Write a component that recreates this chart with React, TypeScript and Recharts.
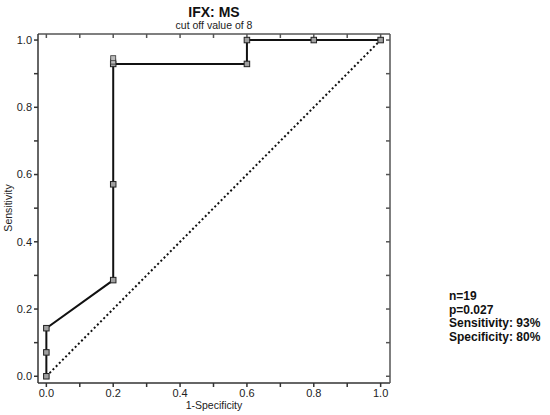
import React from 'react';
import { ComposedChart, Line, Scatter, XAxis, YAxis, CartesianGrid } from 'recharts';

const rocX = [0, 0, 0, 0.2, 0.2, 0.2, 0.6, 0.6, 0.8, 1.0];
const rocY = [0, 0.071, 0.143, 0.286, 0.571, 0.929, 0.929, 1.0, 1.0, 1.0];
const extraX = [0.2, 0.2];
const extraY = [0.936, 0.946];
const diagX = [0, 1];
const diagY = [0, 1];
const ticks = [0, 0.1, 0.2, 0.3, 0.4, 0.5, 0.6, 0.7, 0.8, 0.9, 1.0];
const notes = ['n=19', 'p=0.027', 'Sensitivity: 93%', 'Specificity: 80%'];

const rocData = rocX.map((x, i) => ({ x, y: rocY[i] }));
const extraData = extraX.map((x, i) => ({ x, y: extraY[i] }));
const diagData = diagX.map((x, i) => ({ x, y: diagY[i] }));

const fmt = (v: number) => {
  const k = Math.round(v * 10);
  return k % 2 === 0 ? v.toFixed(1) : '';
};

const SquareDot = (props: any) => {
  const { cx, cy } = props;
  if (cx == null || cy == null) return null;
  return <rect x={cx - 2.75} y={cy - 2.75} width={5.5} height={5.5} fill="#a0a0a0" stroke="#222" strokeWidth={1} />;
};

const SmallDot = (props: any) => {
  const { cx, cy } = props;
  if (cx == null || cy == null) return null;
  return <rect x={cx - 2.5} y={cy - 2.5} width={5} height={5} fill="#bbb" stroke="#333" strokeWidth={0.8} />;
};

const font = 'Liberation Sans, Arial, Helvetica, sans-serif';

export default function App() {
  return (
    <div style={{ position: 'absolute', left: 0, top: 0, width: 550, height: 415, background: '#fff', fontFamily: font }}>
      <ComposedChart width={550} height={415} margin={{ top: 33, right: 159, bottom: 0, left: 0 }}>
        <CartesianGrid stroke="#dcdcdc" horizontalValues={[0, 0.2, 0.4, 0.6, 0.8, 1.0]} verticalValues={[0, 0.2, 0.4, 0.6, 0.8, 1.0]} />
        <XAxis xAxisId="b" dataKey="x" type="number" domain={[-0.025, 1.028]} ticks={ticks} tickFormatter={fmt}
          height={32} tickSize={4} stroke="#333" strokeWidth={1.5}
          tick={{ fill: '#222', fontSize: 11, fontFamily: font }} allowDataOverflow />
        <XAxis xAxisId="t" orientation="top" dataKey="x" type="number" domain={[-0.025, 1.028]} ticks={ticks} tickFormatter={() => ''}
          height={1} tickSize={-4} stroke="#555" strokeWidth={1.5} allowDataOverflow />
        <YAxis yAxisId="l" dataKey="y" type="number" domain={[-0.02, 1.018]} ticks={ticks} tickFormatter={fmt}
          width={38} tickSize={4} stroke="#333" strokeWidth={1.5}
          tick={{ fill: '#222', fontSize: 11, fontFamily: font }} allowDataOverflow />
        <YAxis yAxisId="r" orientation="right" dataKey="y" type="number" domain={[-0.02, 1.018]} ticks={ticks} tickFormatter={() => ''}
          width={1} tickSize={-4} stroke="#555" strokeWidth={1.5} allowDataOverflow />
        <Line xAxisId="b" yAxisId="l" data={diagData} dataKey="y" type="linear" stroke="#111" strokeWidth={2}
          strokeDasharray="2 2.5" dot={false} isAnimationActive={false} />
        <Line xAxisId="b" yAxisId="l" data={rocData} dataKey="y" type="linear" stroke="#111" strokeWidth={2}
          dot={<SquareDot />} isAnimationActive={false} />
        <Scatter xAxisId="b" yAxisId="l" data={extraData} dataKey="y" shape={<SmallDot />} isAnimationActive={false} />
        <text x={214} y={17} textAnchor="middle" fontSize={14} fontWeight="bold" fill="#111" fontFamily={font}>IFX: MS</text>
        <text x={214} y={29} textAnchor="middle" fontSize={10.5} fill="#222" fontFamily={font}>cut off value of 8</text>
        <text x={214} y={409} textAnchor="middle" fontSize={10.5} fill="#222" fontFamily={font}>1-Specificity</text>
        <text x={12} y={208} textAnchor="middle" fontSize={10.5} fill="#222" fontFamily={font} transform="rotate(-90 12 208)">Sensitivity</text>
        {notes.map((n, i) => (
          <text key={n} x={449} y={300 + i * 13.5} fontSize={12} fontWeight="bold" fill="#111" fontFamily={font}>{n}</text>
        ))}
      </ComposedChart>
    </div>
  );
}
